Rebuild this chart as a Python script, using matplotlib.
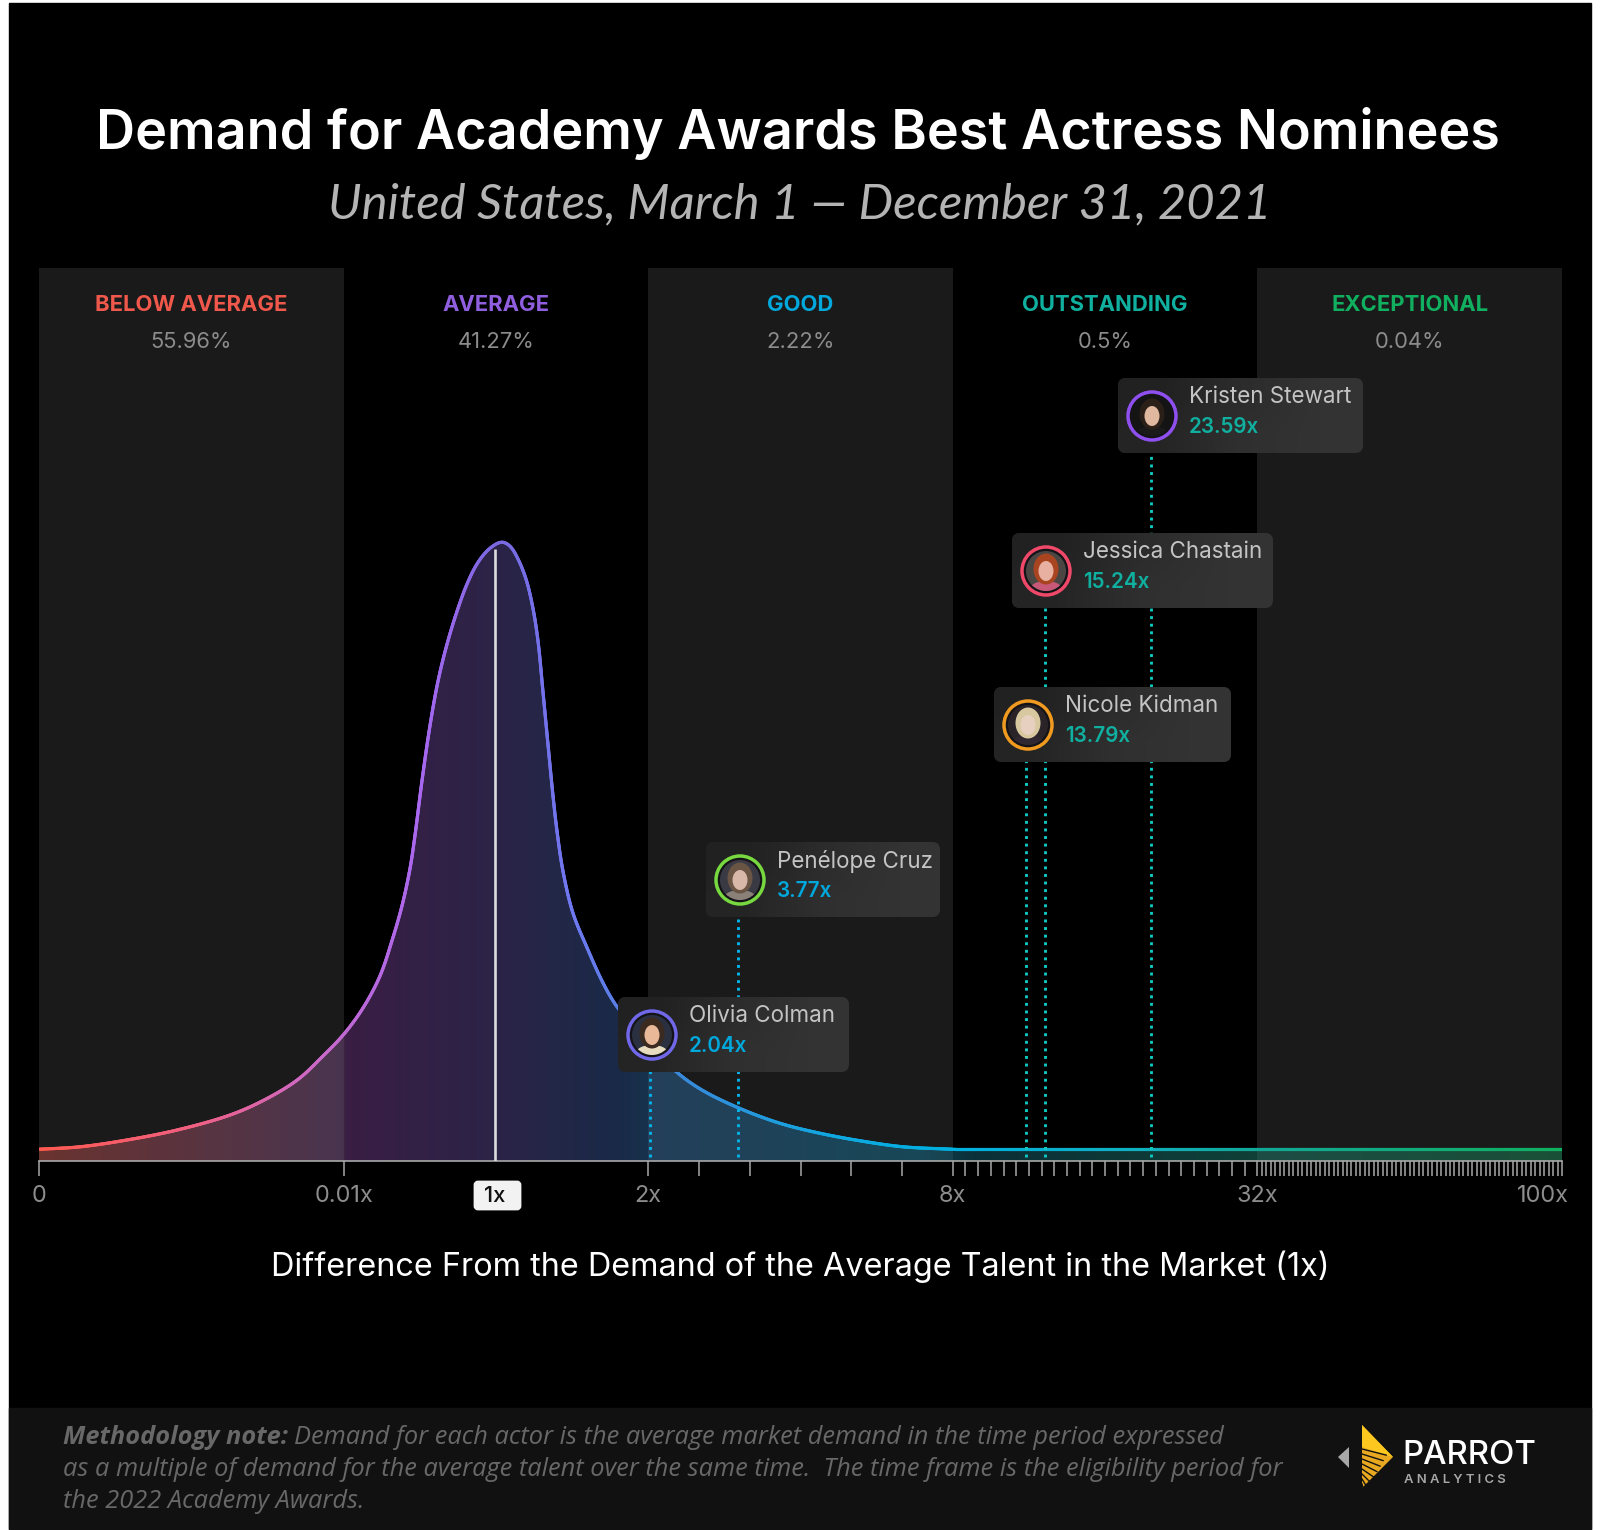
"""Recreates the Parrot Analytics talent demand distribution chart."""
import numpy as np
import matplotlib
matplotlib.use("Agg")
import matplotlib.pyplot as plt
from matplotlib.collections import LineCollection
from matplotlib.colors import LinearSegmentedColormap
from matplotlib.patches import Circle, Ellipse, FancyBboxPatch, Polygon, Rectangle

plt.rcParams["font.family"] = ["Inter", "DejaVu Sans"]

# --- data ---
BREAKS = [0, 0.01, 2, 8, 32, 100]
BREAK_LABELS = ["0", "0.01x", "2x", "8x", "32x", "100x"]

band_names = ["BELOW AVERAGE", "AVERAGE", "GOOD", "OUTSTANDING", "EXCEPTIONAL"]
band_shares = ["55.96%", "41.27%", "2.22%", "0.5%", "0.04%"]
band_colors = ["#f0584c", "#8f5fe0", "#00a8dc", "#10b0a0", "#10b060"]

# demand multiple and curve height (percent of the peak)
curve_x = [0, 0.00135, 0.0030, 0.0046, 0.0063, 0.0074, 0.0085, 0.0093, 0.01,
           0.137, 0.248, 0.326, 0.392, 0.444, 0.476, 0.522, 0.574, 0.627, 0.686,
           0.751, 0.816, 0.882, 0.947, 0.999, 1.045, 1.097, 1.149, 1.202, 1.247,
           1.280, 1.312, 1.345, 1.378, 1.404, 1.443, 1.508, 1.600, 1.704, 1.796,
           2.04, 2.59, 3.08, 3.81, 4.6, 5.38, 6.23, 7.02, 8]
curve_y = [1.9, 2.3, 3.5, 5.1, 7.5, 9.9, 13.2, 16.9, 20.5,
           24.8, 30.0, 35.7, 41.4, 47.4, 52.7, 61.6, 70.5, 77.8, 83.8,
           89.1, 93.5, 96.8, 98.9, 99.9, 100.4, 99.7, 97.6, 94.3, 89.6,
           84.3, 76.2, 67.6, 59.2, 53.5, 47.0, 40.2, 34.6, 28.9, 25.0,
           18.7, 14.2, 11.4, 8.5, 6.1, 4.5, 3.2, 2.3, 1.9]
tail_height = 1.9

actress_names = ["Olivia Colman", "Penélope Cruz", "Nicole Kidman", "Jessica Chastain", "Kristen Stewart"]
actress_values = [2.04, 3.77, 13.79, 15.24, 23.59]
actress_value_colors = ["#00a8dc", "#00a8dc", "#10b0a0", "#10b0a0", "#10b0a0"]
actress_dot_colors = ["#00b4ec", "#00b4ec", "#10c8c0", "#10c8c0", "#10c8c0"]
actress_rings = ["#7068e8", "#78d840", "#f09a20", "#f04868", "#9050f0"]
actress_backs = ["#2a3040", "#3a3a44", "#2a2428", "#4a4644", "#141414"]
actress_hair = ["#3a2a20", "#6a5444", "#d8c8a0", "#a84420", "#2a2018"]
actress_skin = ["#e8b898", "#d8b8a8", "#e8d0c0", "#e8b0a0", "#e0b8a0"]
actress_tops = ["#e8dcc0", "#8a8078", "#302830", "#c85878", "#1a1a1a"]

line_pos = [0, 0.5, 0.85, 1.25, 1.5, 1.75, 2.1, 2.6, 3.0, 3.6, 4.0, 5.0]
line_stops = ["#ff5a50", "#f06080", "#d068c0", "#a868f0", "#7a68e0", "#7078f0",
              "#3a88d8", "#10a8e0", "#00b0e0", "#10b0c0", "#12a898", "#10b060"]
fill_pos = [0, 0.99, 1.01, 1.5, 1.9, 2.0, 2.9, 3.1, 4.0, 5.0]
fill_stops = ["#ba4e46", "#7a5086", "#743c88", "#584890", "#345490", "#30669a",
              "#167696", "#186070", "#208070", "#1a8656"]

W, H = 1600, 1530
X0, X1 = 39, 1562
BASE, TOP = 1161, 268
PEAK_PX = 617


def to_band(values):
    """Piecewise linear axis: each break is one equal wide band."""
    return np.interp(values, BREAKS, np.arange(len(BREAKS)))


def smooth(x, y, steps=12, width=19):
    """Spline through the read points plus a light blur along the line, only for drawing."""
    x_scale, y_scale = (X1 - X0) / 5, PEAK_PX / 100
    p = np.column_stack([np.asarray(x) * x_scale, np.asarray(y) * y_scale])
    d = np.hypot(*np.diff(p, axis=0).T) ** 0.5
    chord = np.diff(p, axis=0) / d[:, None]
    m = np.zeros_like(p)
    m[0], m[-1] = chord[0], chord[-1]
    m[1:-1] = (chord[:-1] * d[1:, None] + chord[1:] * d[:-1, None]) / (d[:-1, None] + d[1:, None])
    out = []
    for i in range(len(d)):
        t = np.linspace(0, 1, steps, endpoint=False)[:, None]
        out.append((2 * t ** 3 - 3 * t ** 2 + 1) * p[i] + (t ** 3 - 2 * t ** 2 + t) * d[i] * m[i]
                   + (-2 * t ** 3 + 3 * t ** 2) * p[i + 1] + (t ** 3 - t ** 2) * d[i] * m[i + 1])
    out.append(p[-1:])
    out = np.vstack(out)

    # resample to one pixel steps, then blur
    s = np.r_[0, np.cumsum(np.hypot(*np.diff(out, axis=0).T))]
    u = np.arange(0, s[-1], 1.0)
    kernel = np.hanning(width)
    kernel /= kernel.sum()
    pad = width // 2
    blurred = []
    for col in out.T:
        even = np.interp(u, s, col)
        padded = np.r_[2 * even[0] - even[pad:0:-1], even, 2 * even[-1] - even[-2:-pad - 2:-1]]
        blurred.append(np.convolve(padded, kernel, mode="valid"))
    return blurred[0] / x_scale, blurred[1] / y_scale


def gradient(name, positions, colors):
    return LinearSegmentedColormap.from_list(name, [(p / 5, c) for p, c in zip(positions, colors)], N=1024)


fig = plt.figure(figsize=(W / 100, H / 100), dpi=100, facecolor="white")

# full figure layer in pixels, for the frame
bg = fig.add_axes([0, 0, 1, 1], zorder=0)
bg.set_xlim(0, W)
bg.set_ylim(H, 0)
bg.axis("off")
bg.add_patch(Rectangle((9, 3), 1582, 1526, color="black"))
bg.add_patch(Rectangle((9, 1408), 1582, 121, color="#111111"))

# --- chart ---
ax = fig.add_axes([X0 / W, 1 - BASE / H, (X1 - X0) / W, (BASE - TOP) / H], zorder=1)
ax.set_facecolor("none")
for side in ["top", "left", "right"]:
    ax.spines[side].set_visible(False)
ax.spines["bottom"].set_color("#a8a8a8")
ax.spines["bottom"].set_linewidth(1.2)
ax.set_yticks([])

for i in [0, 2, 4]:
    ax.axvspan(i, i + 1, color="#1a1a1a", lw=0, zorder=0)

sx, sy = smooth(to_band(curve_x), curve_y)
# the flat tail is straight, only split up so the colour can change along it
tail = np.linspace(sx[-1], 5, 200)[1:]
sx = np.r_[sx, tail]
sy = np.r_[sy, np.full(tail.size, tail_height)]

fill_cmap = gradient("fill", fill_pos, fill_stops)
img = ax.imshow(np.linspace(0, 1, 1500)[None, :], extent=(0, 5, 0, 110), cmap=fill_cmap,
                aspect="auto", alpha=0.5, zorder=1, interpolation="bilinear")
clip = Polygon(np.column_stack([np.r_[0, sx, 5], np.r_[0, sy, 0]]), transform=ax.transData,
               fc="none", ec="none")
ax.add_patch(clip)
img.set_clip_path(clip)
ax.set_xlim(0, 5)
ax.set_ylim(0, (BASE - TOP) / PEAK_PX * 100)

line_cmap = gradient("line", line_pos, line_stops)
pts = np.column_stack([sx, sy])
segs = np.stack([pts[:-1], pts[1:]], axis=1)
lc = LineCollection(segs, colors=line_cmap(sx[:-1] / 5), linewidths=2.3, zorder=3, capstyle="round")
ax.add_collection(lc)

# average marker
ax.vlines(to_band(1), 0, 99.2, color="#dcdcdc", lw=1.9, zorder=4)

# dotted drop lines, the cards cover their upper end
card_mid_y = [1034, 880, 725, 570, 416]
for val, cy, col in zip(actress_values, card_mid_y, actress_dot_colors):
    ax.plot([to_band(val)] * 2, [0.6, (BASE - cy) / PEAK_PX * 100], color=col, lw=2.1,
            linestyle=(0, (1, 1.6)), zorder=5)

# ticks
ax.set_xticks(to_band(BREAKS))
ax.set_xticklabels([])
minor = np.r_[np.arange(3, 8), np.arange(9, 32), np.arange(33, 100)]
ax.set_xticks(to_band(minor), minor=True)
ax.tick_params(axis="x", which="both", length=10.5, width=1.1, color="#a8a8a8")

# --- pixel layer for texts and cards ---
ov = fig.add_axes([0, 0, 1, 1], zorder=2)
ov.set_xlim(0, W)
ov.set_ylim(H, 0)
ov.axis("off")


def px(size):
    return size * 0.72


def band_px(value):
    return X0 + to_band(value) * (X1 - X0) / 5


ov.text(798, 133, "Demand for Academy Awards Best Actress Nominees", color="white", ha="center",
        va="center", fontsize=px(54), fontweight="semibold")
ov.text(800, 204, "United States, March 1 — December 31, 2021", color="#b4b4b4", ha="center",
        va="center", fontsize=px(49), fontstyle="italic", family=["Lato", "DejaVu Sans"])

for i, (name, share, col) in enumerate(zip(band_names, band_shares, band_colors)):
    cx = X0 + (i + 0.5) * (X1 - X0) / 5
    ov.text(cx, 305, name, color=col, ha="center", va="center", fontsize=px(22), fontweight="bold")
    ov.text(cx, 342, share, color="#8c8c8c", ha="center", va="center", fontsize=px(22))

for val, lab in zip(BREAKS, BREAK_LABELS):
    x = band_px(val)
    if lab == "100x":
        x -= 19
    ov.text(x, 1196, lab, color="#8c8c8c", ha="center", va="center", fontsize=px(23.5))

ov.add_patch(FancyBboxPatch((475, 1182), 45, 27, boxstyle="round,pad=0,rounding_size=3", fc="#f2f2f2", ec="#f2f2f2", lw=2))
ov.text(band_px(1), 1196, "1x", color="#111111", ha="center", va="center", fontsize=px(22), fontweight="medium")

ov.text(800, 1267, "Difference From the Demand of the Average Talent in the Market (1x)", color="white",
        ha="center", va="center", fontsize=px(32.4))

# cards
card_left = [618, 706, 994, 1012, 1118]
card_right = [849, 940, 1231, 1273, 1363]
card_top = [997, 842, 687, 533, 378]
card_cmap = LinearSegmentedColormap.from_list("card", ["#212121", "#333333"])
for i, name in enumerate(actress_names):
    l, r, t = card_left[i], card_right[i], card_top[i]
    box = FancyBboxPatch((l + 8, t + 8), r - l - 16, 59, boxstyle="round,pad=8,rounding_size=8",
                         fc="#2a2a2a", ec="none", zorder=2)
    ov.add_patch(box)
    im = ov.imshow(np.array([[0.0, 0.6, 1.0], [0.2, 0.8, 1.0]]), extent=(l, r, t + 75, t), cmap=card_cmap,
                   vmin=0, vmax=1, aspect="auto", interpolation="bilinear", zorder=3)
    im.set_clip_path(box)
    cx, cy = l + 34, t + 38
    ov.add_patch(Circle((cx, cy), 24, fc="#141418", ec=actress_rings[i], lw=2.5, zorder=4))
    photo = Circle((cx, cy), 20, fc=actress_backs[i], ec="none", zorder=5)
    ov.add_patch(photo)
    for shape, order in [(Ellipse((cx, cy + 18), 32, 16, fc=actress_tops[i], ec="none"), 6),
                         (Ellipse((cx, cy - 2), 25, 31, fc=actress_hair[i], ec="none"), 7),
                         (Ellipse((cx, cy), 15, 20, fc=actress_skin[i], ec="none"), 8)]:
        shape.set_zorder(order)
        ov.add_patch(shape)
        shape.set_clip_path(photo)
    ov.text(l + 71, t + 19, name, color="#c4c4c4", va="center", fontsize=px(22.4), zorder=9)
    ov.text(l + 71, t + 49, f"{actress_values[i]}x", color=actress_value_colors[i], va="center",
            fontsize=px(20.6), fontweight="semibold", zorder=9)
ov.set_xlim(0, W)
ov.set_ylim(H, 0)

# footer note
note_font = {"color": "#686868", "fontsize": px(25.4), "va": "center", "fontstyle": "italic",
             "family": ["Open Sans", "DejaVu Sans"]}
head = ov.text(63, 1438, "Methodology note:", fontweight="bold", **note_font)
fig.canvas.draw()
head_right = ov.transData.inverted().transform(head.get_window_extent().get_points())[1, 0]
ov.text(head_right + 6, 1438, "Demand for each actor is the average market demand in the time period expressed", **note_font)
ov.text(63, 1469, "as a multiple of demand for the average talent over the same time.  The time frame is the eligibility period for", **note_font)
ov.text(63, 1502, "the 2022 Academy Awards.", **note_font)

# logo
ov.add_patch(Polygon([[1349, 1447], [1349, 1468], [1338, 1457]], fc="#a8a8a8", ec="none"))
ov.add_patch(Polygon([[1362, 1425], [1393, 1457], [1362, 1488]], fc="#e8a820", ec="none"))
ov.add_patch(Polygon([[1362, 1425], [1393, 1457], [1362, 1447]], fc="#fcc820", ec="none"))
for off in np.arange(1449, 1488, 5):
    ov.plot([1362, 1362 + (1488 - off) * 0.62], [off, off + 10 - (1488 - off) * 0.1], color="#111111", lw=1.0)
ov.text(1402, 1456, "PARROT", color="white", va="center", fontsize=px(33), fontweight="medium")
ov.text(1404, 1480, "A N A L Y T I C S", color="#a8a8a8", va="center", fontsize=px(13), fontweight="semibold")

fig.savefig("out.png", dpi=100, facecolor="white")
